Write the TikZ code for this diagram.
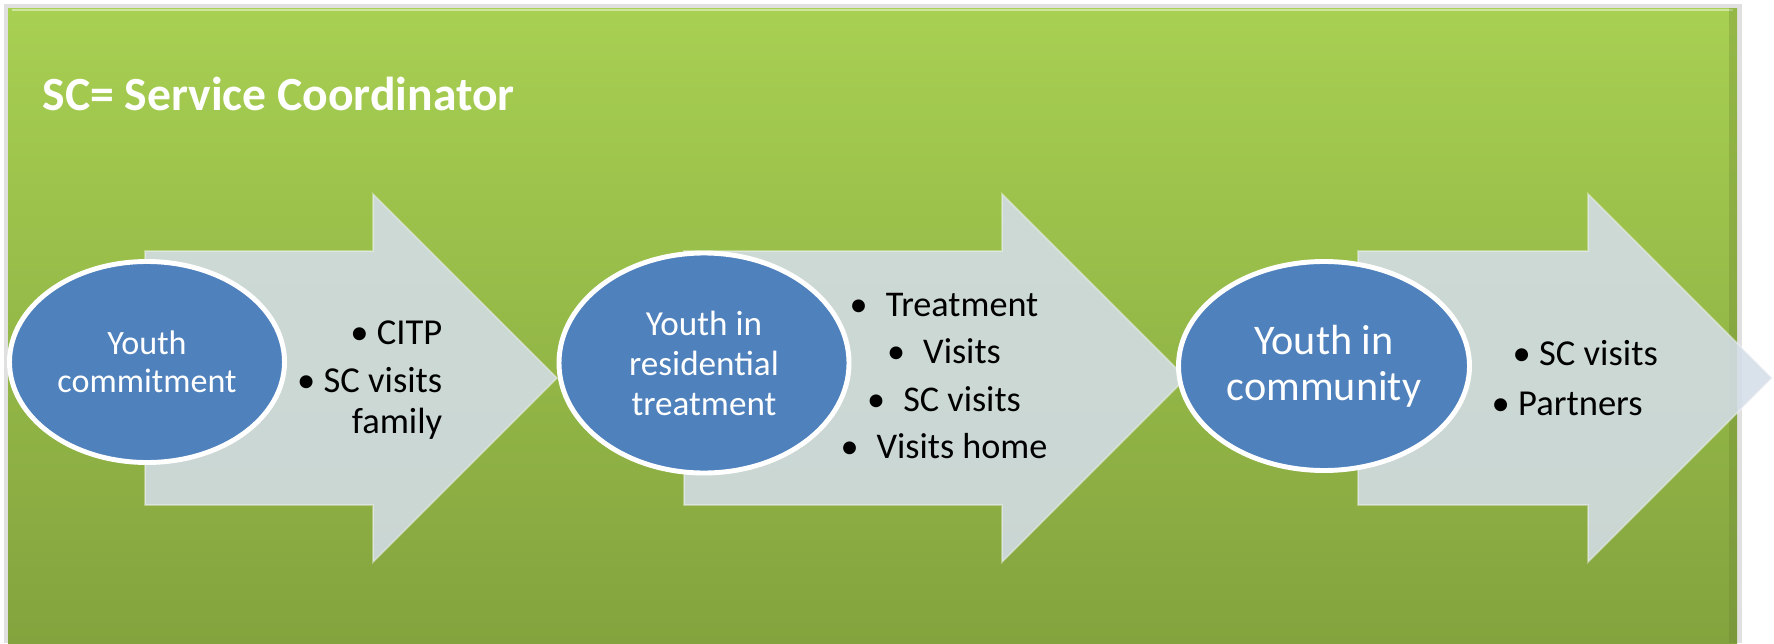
\documentclass[tikz,border=0pt]{standalone}
\usepackage{fontspec}
\setmainfont{Carlito}
\usetikzlibrary{shapes.geometric}

\definecolor{verdearriba}{RGB}{168,208,82}
\definecolor{verdeabajo}{RGB}{131,163,62}
\definecolor{azuletapa}{RGB}{79,129,189}
\definecolor{grisflecha}{RGB}{212,221,232}

\tikzset{
	fondo/.style={top color=verdearriba, bottom color=verdeabajo},
	titulo/.style={text=white, font=\fontsize{13.55}{16}\selectfont\bfseries, inner sep=0pt},
	flecha/.style={fill=grisflecha, fill opacity=0.88, draw=white, draw opacity=0.35, line width=0.5pt},
	etapa/.style={ellipse, fill=azuletapa, draw=white, line width=1.4pt, 
		text=white, align=center, inner sep=0pt},
	lista/.style={text=black, inner sep=0pt}
}

\begin{document}
\begin{tikzpicture}[x=0.1mm, y=-0.1mm]
	\useasboundingbox (0,0) rectangle (1774,643);
	
	% marco verde
	\fill[black!12] (4,4) rectangle (1742,643);
	\shade[fondo] (8,8) rectangle (1737,643);
	\draw[verdearriba!55!white, line width=0.6pt] (12,10) -- (1733,10);
	\fill[verdeabajo!80!black, opacity=0.3] (1729,8) rectangle (1737,643);
	
	\node[titulo, anchor=base west] (titulo) at (42,110) {SC= Service Coordinator};
	
	% flechas
	\filldraw[flecha] (145,251) -- (373,251) -- (373,194) -- (557,378) -- (373,562) -- (373,505) -- (145,505) -- cycle;
	\filldraw[flecha] (684,251) -- (1002,251) -- (1002,194) -- (1186,378) -- (1002,562) -- (1002,505) -- (684,505) -- cycle;
	\filldraw[flecha] (1358,251) -- (1588,251) -- (1588,194) -- (1772,378) -- (1588,562) -- (1588,505) -- (1358,505) -- cycle;
	
	% etapas
	\node[etapa, minimum width=27.5mm, minimum height=20.1mm, font=\fontsize{9.7}{10.8}\selectfont] (e1) at (147,362) {Youth\\commitment};
	\node[etapa, minimum width=29mm, minimum height=22mm, font=\fontsize{10}{11.4}\selectfont] (e2) at (704,363) {Youth in\\residential\\treatment};
	\node[etapa, minimum width=29.1mm, minimum height=20.9mm, font=\fontsize{12}{13.1}\selectfont] (e3) at (1324,366) {Youth in\\community};
	
	% listas
	\node[lista, align=right, anchor=east, font=\fontsize{10.4}{11.7}\selectfont] (l1) at (443,380) {•\ CITP\\[2pt]•\ SC visits\\family};
	\node[lista, align=center, font=\fontsize{10.3}{13.4}\selectfont] (l2) at (944,376) {•\enspace Treatment\\•\enspace Visits\\•\enspace SC visits\\•\enspace Visits home};
	\node[lista, align=left, anchor=west, font=\fontsize{10.4}{14}\selectfont] (l3) at (1491,378) {\hspace*{2.1mm}•\ SC visits\\•\ Partners};
\end{tikzpicture}
\end{document}
